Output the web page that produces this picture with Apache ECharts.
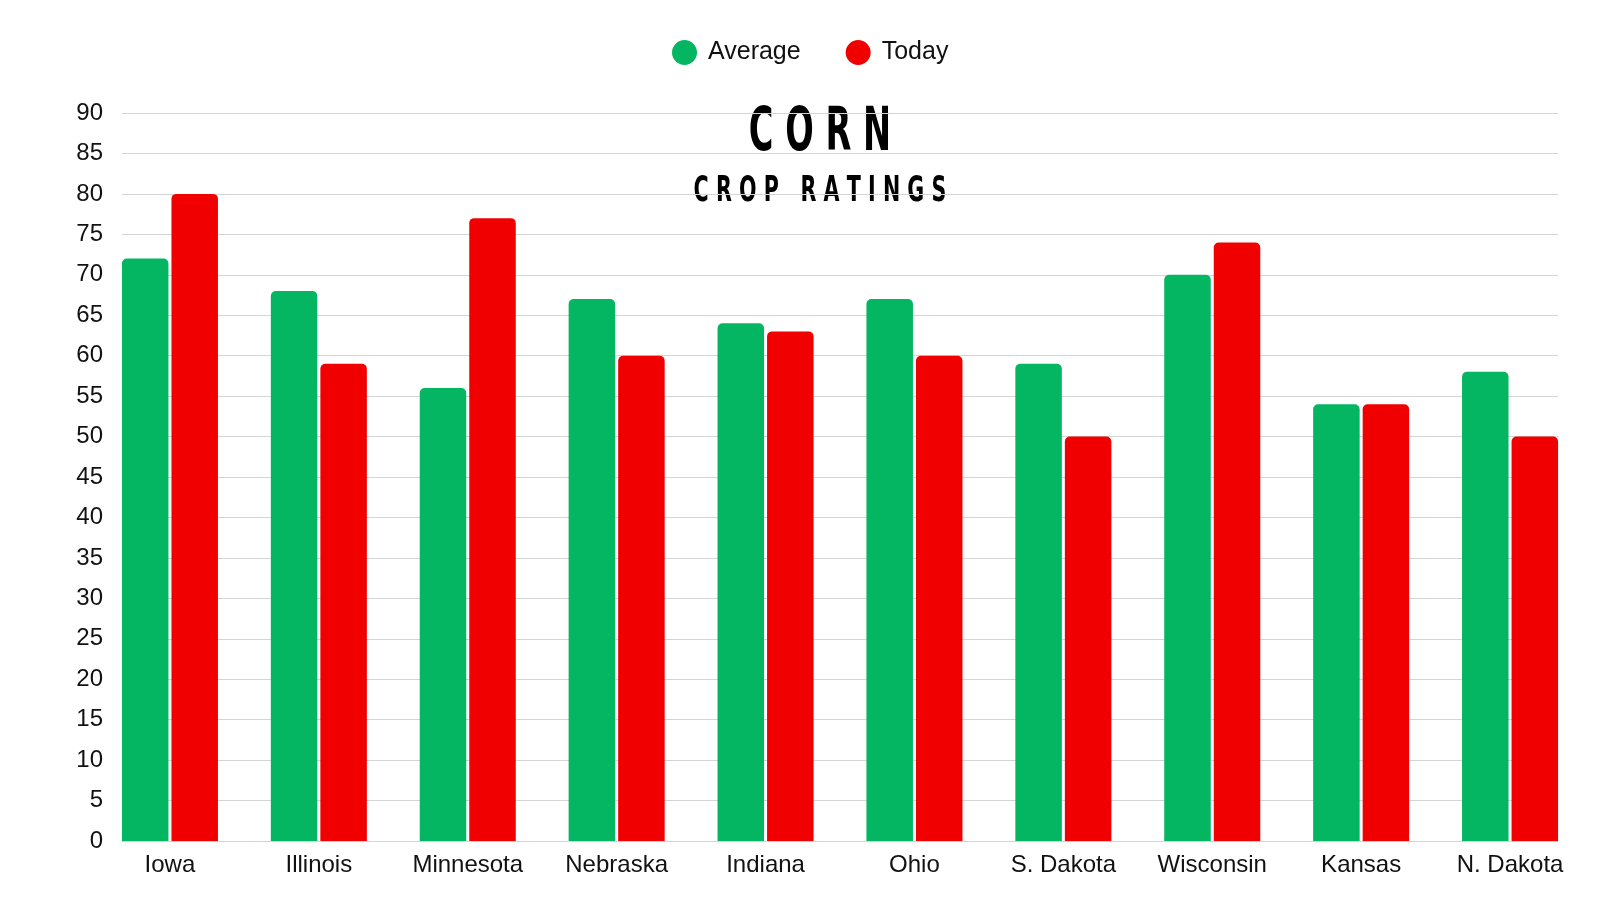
<!DOCTYPE html>
<html style="height: 100%">
<head>
    <meta charset="utf-8">
    <title>Corn crop ratings</title>
</head>
<body style="height: 100%; margin: 0; background: #fff">
<div id="container" style="width: 1600px; height: 900px"></div>
<script type="text/javascript" src="https://cdn.jsdelivr.net/npm/echarts@6/dist/echarts.min.js"></script>
<script type="text/javascript">
    // data
    var states = ['Iowa', 'Illinois', 'Minnesota', 'Nebraska', 'Indiana', 'Ohio', 'S. Dakota', 'Wisconsin', 'Kansas', 'N. Dakota'];
    var average = [72, 68, 56, 67, 64, 67, 59, 70, 54, 58];
    var today = [80, 59, 77, 60, 63, 60, 50, 74, 54, 50];
    var yMin = 0, yMax = 90, yStep = 5;

    var green = '#04b562';
    var red = '#f00000';
    var labelFont = 'Liberation Sans, Arial, sans-serif';

    var dom = document.getElementById('container');
    var myChart = echarts.init(dom);
    var option = {
        backgroundColor: '#fff',
        animation: false,
        legend: {
            top: 35,
            left: 667,
            icon: 'circle',
            itemWidth: 25,
            itemHeight: 25,
            itemGap: 45,
            textStyle: {fontSize: 25, color: '#111', fontFamily: labelFont, padding: [0, 0, 0, 6]},
            data: ['Average', 'Today']
        },
        graphic: [
            {
                type: 'text',
                x: 820,
                y: 134,
                scaleX: 0.56,
                style: {
                    text: 'C O R N',
                    fontSize: 60,
                    fontWeight: 'bold',
                    fontFamily: 'DejaVu Sans',
                    fill: '#000',
                    textAlign: 'center',
                    textVerticalAlign: 'middle'
                }
            },
            {
                type: 'text',
                x: 820,
                y: 192,
                scaleX: 0.59,
                style: {
                    text: 'C R O P   R A T I N G S',
                    fontSize: 35,
                    fontWeight: 'bold',
                    fontFamily: 'DejaVu Sans',
                    fill: '#000',
                    textAlign: 'center',
                    textVerticalAlign: 'middle'
                }
            }
        ],
        grid: [
            // grid lines and value labels
            {left: 122, right: 42, top: 113, bottom: 59},
            // bars, widened so the outer bars touch the ends of the grid lines
            {left: 95.5, right: 15.5, top: 113, bottom: 59}
        ],
        xAxis: [
            {gridIndex: 0, type: 'category', data: states, show: false},
            {
                gridIndex: 1,
                type: 'category',
                data: states,
                axisLine: {show: false},
                axisTick: {show: false},
                axisLabel: {fontSize: 24, color: '#111', fontFamily: labelFont, margin: 12}
            }
        ],
        yAxis: [
            {
                gridIndex: 0,
                type: 'value',
                min: yMin,
                max: yMax,
                interval: yStep,
                axisLine: {show: false},
                axisTick: {show: false},
                axisLabel: {fontSize: 24, color: '#111', fontFamily: labelFont, margin: 19},
                splitLine: {lineStyle: {color: '#d4d4d4', width: 1}}
            },
            {gridIndex: 1, type: 'value', min: yMin, max: yMax, interval: yStep, show: false}
        ],
        series: [
            {
                name: 'Average',
                type: 'bar',
                xAxisIndex: 1,
                yAxisIndex: 1,
                data: average,
                barWidth: 46.5,
                barGap: '6.5%',
                itemStyle: {color: green, borderRadius: [5, 5, 0, 0]}
            },
            {
                name: 'Today',
                type: 'bar',
                xAxisIndex: 1,
                yAxisIndex: 1,
                data: today,
                barWidth: 46.5,
                barGap: '6.5%',
                itemStyle: {color: red, borderRadius: [5, 5, 0, 0]}
            }
        ]
    };
    if (option && typeof option === "object") {
        myChart.setOption(option, true);
    }
</script>
</body>
</html>
